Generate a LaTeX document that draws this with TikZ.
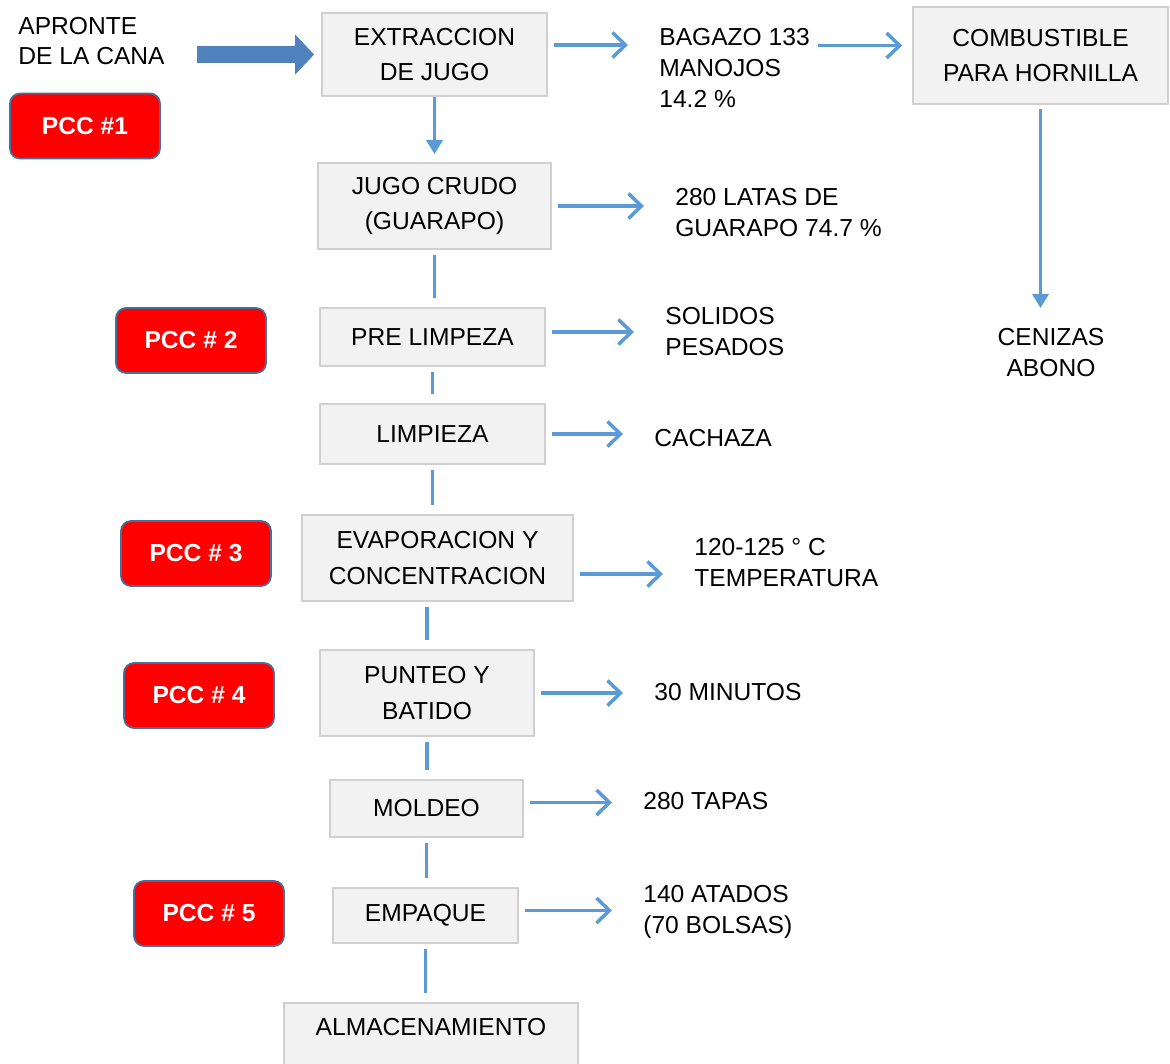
\documentclass[tikz,border=0pt]{standalone}
\usepackage{fontspec}
\setmainfont{Liberation Sans}
\usetikzlibrary{arrows.meta}
\definecolor{flowblue}{HTML}{5B9BD5}
\definecolor{fatblue}{HTML}{4F81BD}
\definecolor{boxgray}{HTML}{F2F2F2}
\definecolor{boxline}{HTML}{D0D0D0}
\definecolor{pccline}{HTML}{41719C}

\begin{document}
\begin{tikzpicture}[
  x=0.02cm, y=-0.02cm,
  font=\fontsize{14}{17.6}\selectfont,
  process/.style={
    draw=boxline, fill=boxgray, line width=1pt, align=center,
    inner sep=2pt, font=\fontsize{14}{20.4}\selectfont
  },
  pcc/.style={
    draw=pccline, fill=red, line width=1pt, rounded corners=0.2cm,
    minimum width=3cm, minimum height=1.3cm, text=white,
    font=\fontsize{14}{17.6}\selectfont\bfseries
  },
  output/.style={align=left, anchor=west, inner sep=0pt},
  flow/.style={draw=flowblue, line width=2pt},
  link/.style={flow, shorten <=0.1cm, shorten >=0.18cm},
  arrow/.style={flow, -{Straight Barb[length=0.26cm, width=0.5cm]},
    shorten <=0.12cm, shorten >=0.62cm},
  down/.style={flow, -{Triangle[length=0.28cm, width=0.32cm]}},
  fat/.style={draw=fatblue, line width=0.34cm,
    -{Triangle[length=0.38cm, width=0.78cm]}},
]
\useasboundingbox (0,0) rectangle (1170,1063);

\node[output] (apr) at (18,41) {APRONTE\\DE LA CANA};
\node[pcc] (pcc1) at (85,126) {PCC \#1};
\node[pcc] (pcc2) at (191,340.5) {PCC \# 2};
\node[pcc] (pcc3) at (196,553.5) {PCC \# 3};
\node[pcc] (pcc4) at (199,695.5) {PCC \# 4};
\node[pcc] (pcc5) at (209,913.5) {PCC \# 5};

\node[process, minimum width=4.5cm, minimum height=1.66cm] (ext) at (434.5,54.5) {EXTRACCION\\DE JUGO};
\node[process, minimum width=5.1cm, minimum height=1.94cm] (comb) at (1040.5,55.5) {COMBUSTIBLE\\PARA HORNILLA};
\node[process, minimum width=4.66cm, minimum height=1.72cm] (crudo) at (434.5,206) {JUGO CRUDO\\(GUARAPO)};
\node[process, minimum width=4.5cm, minimum height=1.16cm] (prelimp) at (432.5,337) {PRE LIMPEZA};
\node[process, minimum width=4.5cm, minimum height=1.2cm] (limp) at (432.5,434) {LIMPIEZA};
\node[process, minimum width=5.42cm, minimum height=1.72cm] (evap) at (437.5,558) {EVAPORACION Y\\CONCENTRACION};
\node[process, minimum width=4.28cm, minimum height=1.72cm] (punteo) at (427,693) {PUNTEO Y\\BATIDO};
\node[process, minimum width=3.86cm, minimum height=1.14cm] (moldeo) at (426.5,808.5) {MOLDEO};
\node[process, minimum width=3.7cm, minimum height=1.1cm] (empaque) at (425.5,915.5) {EMPAQUE};
\node[process, minimum width=5.88cm, anchor=north, inner ysep=0.3cm,
  text height=0.36cm, text depth=1.2cm] (alma) at (431,1002) {ALMACENAMIENTO};

\node[output] (bag) at (659,68) {BAGAZO 133\\MANOJOS\\14.2 \%};
\node[output] (lat) at (675,212.5) {280 LATAS DE\\GUARAPO 74.7 \%};
\node[output] (sol) at (665,331.5) {SOLIDOS\\PESADOS};
\node[output] (cach) at (654,438) {CACHAZA};
\node[output] (temp) at (694,562.5) {120-125 ° C\\TEMPERATURA};
\node[output] (mins) at (654,692) {30 MINUTOS};
\node[output] (tap) at (643,801) {280 TAPAS};
\node[output] (ata) at (643,912) {140 ATADOS\\(70 BOLSAS)};
\node[align=center, inner sep=0pt] (cen) at (1051,352.5) {CENIZAS\\ABONO};

\draw[fat, shorten <=0.64cm, shorten >=0.14cm] (apr.east |- ext.west) -- (ext.west);
\draw[arrow] ([yshift=0.19cm]ext.east) -- ([yshift=0.19cm]ext.east -| bag.west);
\draw[arrow, shorten <=0.16cm, shorten >=0.2cm] ([yshift=0.2cm]comb.west -| bag.east) -- ([yshift=0.2cm]comb.west);
\draw[down, shorten <=0.08cm, shorten >=0.4cm] (comb.south) -- (comb.south |- cen.north);
\draw[down, shorten >=0.16cm] (ext) -- (crudo);
\draw[arrow] (crudo.east) -- (crudo.east -| lat.west);
\draw[arrow] ([yshift=0.1cm]prelimp.east) -- ([yshift=0.1cm]prelimp.east -| sol.west);
\draw[arrow] (limp.east) -- (limp.east -| cach.west);
\draw[arrow] ([yshift=-0.32cm]evap.east) -- ([yshift=-0.32cm]evap.east -| temp.west);
\draw[arrow] (punteo.east) -- (punteo.east -| mins.west);
\draw[arrow] ([yshift=0.12cm]moldeo.east) -- ([yshift=0.12cm]moldeo.east -| tap.west);
\draw[arrow] ([yshift=0.1cm]empaque.east) -- ([yshift=0.1cm]empaque.east -| ata.west);

\draw[link] (crudo.south) -- (crudo.south |- prelimp.north);
\draw[link] (prelimp.south) -- (prelimp.south |- limp.north);
\draw[link] (limp.south) -- (limp.south |- evap.north);
\draw[link] (punteo.north |- evap.south) -- (punteo.north);
\draw[link] (punteo.south) -- (punteo.south |- moldeo.north);
\draw[link] (moldeo.south) -- (moldeo.south |- empaque.north);
\draw[link] (empaque.south) -- (empaque.south |- alma.north);

\end{tikzpicture}
\end{document}
